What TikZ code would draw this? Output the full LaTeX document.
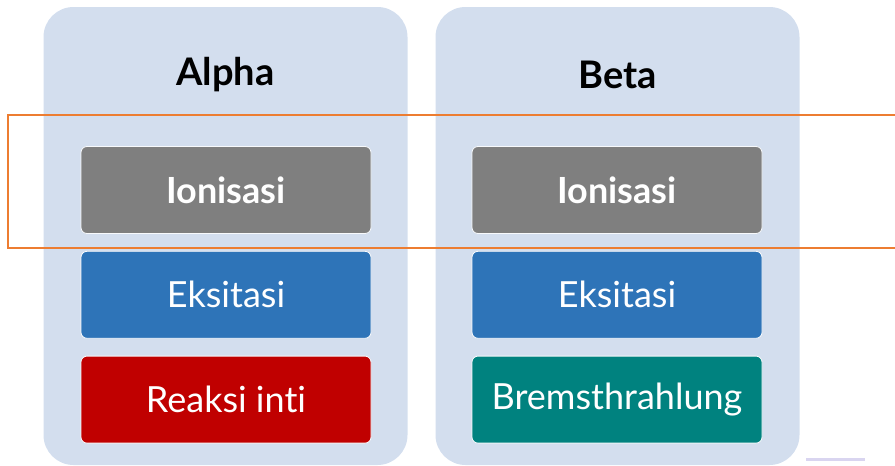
\documentclass[tikz,border=0pt]{standalone}
\usepackage{fontspec}
\setmainfont{Lato}[Ligatures={NoCommon}]
\usetikzlibrary{positioning}

\definecolor{panelblue}{HTML}{D3DEEE}
\definecolor{ionigray}{HTML}{7F7F7F}
\definecolor{eksiblue}{HTML}{2E74B8}
\definecolor{inired}{HTML}{C00000}
\definecolor{bremteal}{HTML}{00827F}
\definecolor{markorange}{HTML}{ED7D31}
\definecolor{barlilac}{HTML}{D9D5F0}

\begin{document}
\begin{tikzpicture}[
                x=1pt, y=-1pt,
                panel/.style={rectangle, rounded corners=30pt, fill=panelblue,
                    minimum width=364pt, minimum height=458pt},
                title/.style={font=\fontsize{38}{42}\selectfont\bfseries, text=black},
                item/.style={rectangle, rounded corners=6pt, draw=white!85!panelblue,
                    line width=0.8pt, minimum width=290pt, minimum height=87pt,
                    text=white, font=\fontsize{36}{40}\selectfont},
                ioni/.style={item, fill=ionigray, font=\fontsize{36}{40}\selectfont\bfseries},
                eksi/.style={item, fill=eksiblue},
                reak/.style={item, fill=inired},
                brem/.style={item, fill=bremteal},
            ]
            \useasboundingbox (0,0) rectangle (895,466);
            \clip (0,0) rectangle (895,466);
            % panels
            \node[panel] (alpha) at (225.5,236) {};
            \node[panel] (beta) at (617.5,236) {};
            \node[title] (alphaT) at (225.5,75) {Alpha};
            \node[title] (betaT) at (617.5,75) {Beta};
            % alpha column
            \node[ioni] (ionA) at (226,190) {Ionisasi};
            \node[eksi, below=17pt of ionA] (eksA) {Eksitasi};
            \node[reak, below=17pt of eksA] (reakA) {Reaksi inti};
            % beta column
            \node[ioni] (ionB) at (617,190) {Ionisasi};
            \node[eksi, below=17pt of ionB] (eksB) {Eksitasi};
            \node[brem, below=17pt of eksB] (bremB) {Bremsthrahlung};
            % highlight
            \draw[markorange, line width=2.2pt] (8,115) rectangle (905,248);
            \draw[barlilac, line width=3pt] (806,459) -- (865,459);
            \end{tikzpicture}
\end{document}
